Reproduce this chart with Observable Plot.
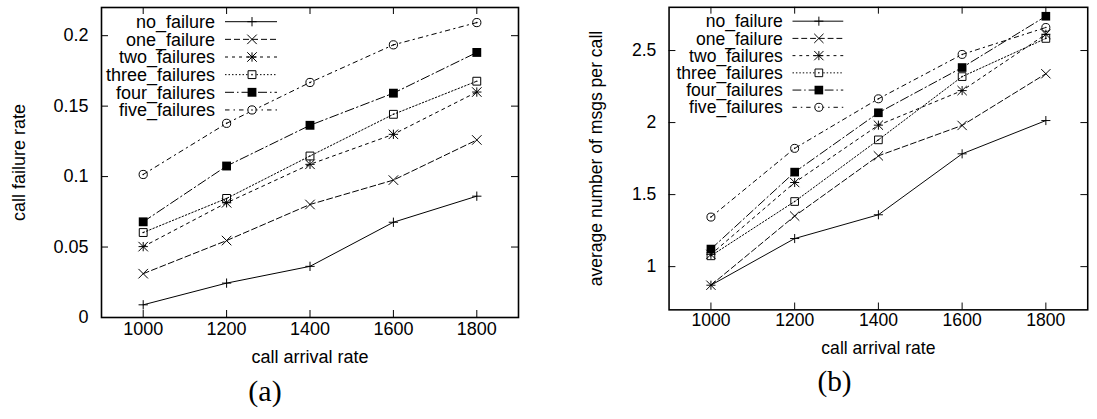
<!DOCTYPE html>
<html><head><meta charset="utf-8">
<script src="https://cdn.jsdelivr.net/npm/d3@7"></script>
<script src="https://cdn.jsdelivr.net/npm/@observablehq/plot@0.6"></script>
<style>
html,body{margin:0;padding:0;background:#fff;overflow:hidden;width:1097px;height:419px;}
#wrap{position:relative;width:1097px;height:419px;overflow:hidden;}
.chart{position:absolute;top:0;}
</style></head><body>
<div id="wrap"><div id="a" class="chart" style="left:0px"></div><div id="b" class="chart" style="left:570px"></div></div>
<script>
// ---- data ----
const arrivalRates = [1000, 1200, 1400, 1600, 1800];
const seriesNames = ["no_failure", "one_failure", "two_failures", "three_failures", "four_failures", "five_failures"];

// (a) call failure rate
const rateNoFailure    = [0.009, 0.0244, 0.0363, 0.0676, 0.0861];
const rateOneFailure   = [0.0311, 0.0546, 0.0802, 0.0975, 0.126];
const rateTwoFailures  = [0.0503, 0.0814, 0.1087, 0.130, 0.160];
const rateThreeFailures= [0.0603, 0.0845, 0.1146, 0.1442, 0.1677];
const rateFourFailures = [0.0679, 0.1075, 0.1364, 0.1592, 0.1881];
const rateFiveFailures = [0.1015, 0.1378, 0.1668, 0.1935, 0.2093];

// (b) average number of msgs per call
const msgsNoFailure    = [0.871, 1.195, 1.36, 1.783, 2.014];
const msgsOneFailure   = [0.871, 1.351, 1.769, 1.98, 2.339];
const msgsTwoFailures  = [1.085, 1.584, 1.982, 2.222, 2.613];
const msgsThreeFailures= [1.075, 1.452, 1.88, 2.319, 2.584];
const msgsFourFailures = [1.122, 1.656, 2.068, 2.382, 2.738];
const msgsFiveFailures = [1.344, 1.821, 2.165, 2.473, 2.66];

const xTicks = [1000, 1200, 1400, 1600, 1800];
const rateTicks = [0, 0.05, 0.1, 0.15, 0.2];
const rateTickLabels = ["0", "0.05", "0.1", "0.15", "0.2"];
const msgsTicks = [1, 1.5, 2, 2.5];
const msgsTickLabels = ["1", "1.5", "2", "2.5"];

// ---- styles (per series) ----
const FONT = "'Liberation Sans', Arial, Helvetica, sans-serif";
const FS = 18;
const styles = [
  {dash: null,          marks: [{symbol: "plus", r: 3.1, fill: "none"}]},
  {dash: "6,3",         marks: [{symbol: "times", r: 4.4, fill: "none"}]},
  {dash: "3,4",         marks: [{symbol: "plus", r: 3.1, fill: "none"}, {symbol: "times", r: 4.4, fill: "none"}]},
  {dash: "1.5,2",       marks: [{symbol: "square2", r: 5.0, fill: "none"}, {symbol: "circle", r: 0.8, fill: "#000"}]},
  {dash: "9,3,1.5,3",   marks: [{symbol: "square", r: 5.0, fill: "#000"}]},
  {dash: "4.5,4,1.5,4", marks: [{symbol: "circle", r: 4.1, fill: "none"}, {symbol: "circle", r: 0.8, fill: "#000"}]}
];

function makeChart(opt) {
  const {values, yDomain, yTicks, yTickLabels, yLabel, caption, width, marginRight, legendTextEnd, ylabelDx} = opt;
  const height = 419, marginTop = 7, marginBottom = 102, marginLeft = 101;
  const frameW = width - marginLeft - marginRight;
  const frameH = height - marginTop - marginBottom;
  const rows = [];
  values.forEach((vals, s) => vals.forEach((v, i) => rows.push({series: seriesNames[s], s, x: arrivalRates[i], y: v})));

  const marks = [
    Plot.frame({stroke: "#000", strokeWidth: 1.6}),
    Plot.ruleX(xTicks, {x: d => d, insetTop: frameH - 7, stroke: "#000", strokeWidth: 1}),
    Plot.ruleX(xTicks, {x: d => d, insetBottom: frameH - 7, stroke: "#000", strokeWidth: 1}),
    Plot.ruleY(yTicks, {y: d => d, insetRight: frameW - 7, stroke: "#000", strokeWidth: 1}),
    Plot.ruleY(yTicks, {y: d => d, insetLeft: frameW - 7, stroke: "#000", strokeWidth: 1}),
    Plot.text(xTicks, {x: d => d, frameAnchor: "bottom", dy: 17, text: d => String(d), fontSize: FS, fill: "#000"}),
    Plot.text(yTicks, {y: d => d, frameAnchor: "left", dx: -13, textAnchor: "end", text: (d, i) => yTickLabels[i], fontSize: FS, fill: "#000"}),
    Plot.text(["call arrival rate"], {frameAnchor: "bottom", dy: 45, text: d => d, fontSize: FS, fill: "#000"}),
    Plot.text([yLabel], {frameAnchor: "left", dx: ylabelDx, rotate: -90, textAnchor: "middle", text: d => d, fontSize: FS, fill: "#000"}),
    Plot.text([caption], {frameAnchor: "bottom", dy: 83, dx: -45, textAnchor: "middle", text: d => d, fontSize: 30, fontFamily: "'Liberation Serif', 'Times New Roman', serif", fill: "#000"})
  ];
  seriesNames.forEach((name, s) => {
    const data = rows.filter(d => d.s === s);
    const st = styles[s];
    marks.push(Plot.line(data, {x: "x", y: "y", stroke: "#000", strokeWidth: 1, strokeDasharray: st.dash || undefined}));
    st.marks.forEach(m => {
      marks.push(Plot.dot(data, {x: "x", y: "y", symbol: m.symbol, r: m.r, fill: m.fill, stroke: m.fill === "none" ? "#000" : "none", strokeWidth: 1}));
    });
  });

  const svg = Plot.plot({
    width, height, marginTop, marginBottom, marginLeft, marginRight,
    x: {domain: [900, 1900], axis: null},
    y: {domain: yDomain, axis: null},
    style: {fontFamily: FONT, fontSize: FS + "px", color: "#000", background: "#fff", overflow: "visible"},
    marks
  });

  // legend (inside the frame, top-left)
  const g = d3.select(svg).append("g").attr("font-family", FONT).attr("font-size", FS);
  const symMap = {plus: d3.symbolPlus, times: d3.symbolTimes, square: d3.symbolSquare, square2: d3.symbolSquare2, circle: d3.symbolCircle};
  seriesNames.forEach((name, s) => {
    const y = 21.7 + s * 17.65;
    const st = styles[s];
    const x0 = legendTextEnd + 10, x1 = x0 + 52, xm = x0 + 27;
    g.append("text").attr("x", legendTextEnd).attr("y", y).attr("dy", "0.35em").attr("text-anchor", "end").attr("fill", "#000").text(name);
    g.append("line").attr("x1", x0).attr("x2", x1).attr("y1", y).attr("y2", y)
      .attr("stroke", "#000").attr("stroke-width", 1).attr("stroke-dasharray", st.dash || null);
    st.marks.forEach(m => {
      g.append("path").attr("transform", `translate(${xm},${y})`)
        .attr("d", d3.symbol(symMap[m.symbol], m.r * m.r * Math.PI)())
        .attr("fill", m.fill === "none" ? "#fff" : m.fill)
        .attr("stroke", m.fill === "none" ? "#000" : "none").attr("stroke-width", 1);
    });
  });
  return svg;
}

document.getElementById("a").appendChild(makeChart({
  values: [rateNoFailure, rateOneFailure, rateTwoFailures, rateThreeFailures, rateFourFailures, rateFiveFailures],
  yDomain: [0, 0.22], yTicks: rateTicks, yTickLabels: rateTickLabels,
  yLabel: "call failure rate", caption: "(a)",
  width: 545, marginRight: 27, legendTextEnd: 215, ylabelDx: -82
}));
document.getElementById("b").appendChild(makeChart({
  values: [msgsNoFailure, msgsOneFailure, msgsTwoFailures, msgsThreeFailures, msgsFourFailures, msgsFiveFailures],
  yDomain: [0.7, 2.8], yTicks: msgsTicks, yTickLabels: msgsTickLabels,
  yLabel: "average number of msgs per call", caption: "(b)",
  width: 540, marginRight: 10, legendTextEnd: 218, ylabelDx: -74
}));
</script>
</body></html>
